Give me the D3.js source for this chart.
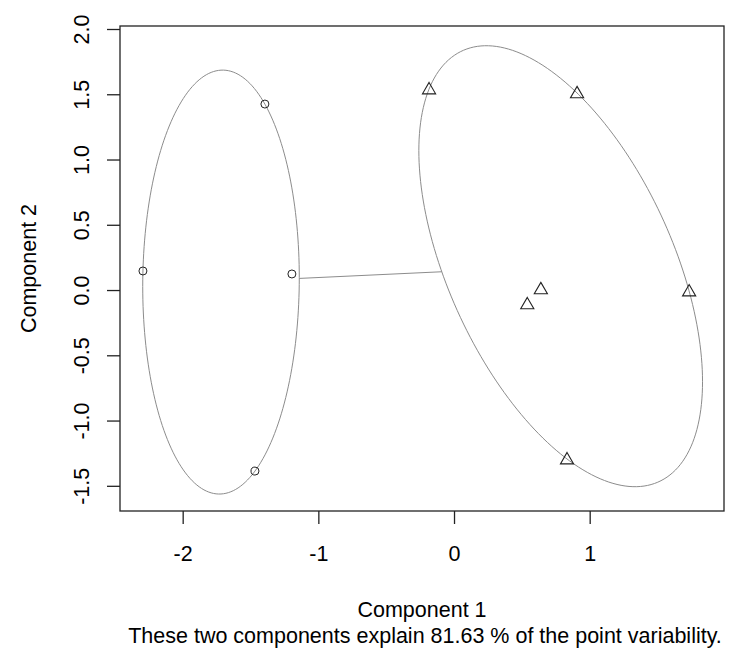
<!DOCTYPE html>
<html lang="en">
<head>
<meta charset="UTF-8">
<title>clusplot</title>
<script src="https://d3js.org/d3.v7.min.js"></script>
<style>
  body { margin: 0; background: #fff; }
  text { font-family: "Liberation Sans", Arial, sans-serif; fill: #000; }
</style>
</head>
<body>
<div id="chart"></div>
<script>
// cluster 1 (circles)
const c1x = [-1.394, -2.293, -1.195, -1.467];
const c1y = [1.425, 0.146, 0.123, -1.387];
// cluster 2 (triangles)
const c2x = [-0.184, 0.907, 0.640, 0.540, 1.733, 0.833];
const c2y = [1.540, 1.510, 0.008, -0.107, -0.008, -1.295];

const xTicks = [-2, -1, 0, 1];
const yTicks = [-1.5, -1.0, -0.5, 0.0, 0.5, 1.0, 1.5, 2.0];

const W = 732, H = 650;
const m = { left: 120, top: 26, right: 8, bottom: 139 };
const FS = "21.5px";

const svg = d3.select("#chart").append("svg")
  .attr("width", W).attr("height", H);

const x = d3.scaleLinear().domain([-2.462, 1.99]).range([m.left, W - m.right]);
const y = d3.scaleLinear().domain([-1.693, 2.023]).range([H - m.bottom, m.top]);

// minimum volume enclosing ellipse (Khachiyan)
function mvee(px, py) {
  const n = px.length;
  let u = new Array(n).fill(1 / n);
  for (let it = 0; it < 5000; it++) {
    const X = [[0,0,0],[0,0,0],[0,0,0]];
    for (let i = 0; i < n; i++) {
      const q = [px[i], py[i], 1];
      for (let a = 0; a < 3; a++) for (let b = 0; b < 3; b++) X[a][b] += u[i] * q[a] * q[b];
    }
    const Xi = inv3(X);
    let best = -1, bi = 0;
    for (let i = 0; i < n; i++) {
      const q = [px[i], py[i], 1];
      let s = 0;
      for (let a = 0; a < 3; a++) for (let b = 0; b < 3; b++) s += q[a] * Xi[a][b] * q[b];
      if (s > best) { best = s; bi = i; }
    }
    const step = (best - 3) / (3 * (best - 1));
    const nu = u.map(v => v * (1 - step));
    nu[bi] += step;
    let err = 0;
    for (let i = 0; i < n; i++) err += (nu[i] - u[i]) ** 2;
    u = nu;
    if (Math.sqrt(err) < 1e-9) break;
  }
  let cx = 0, cy = 0;
  for (let i = 0; i < n; i++) { cx += u[i] * px[i]; cy += u[i] * py[i]; }
  let sxx = 0, sxy = 0, syy = 0;
  for (let i = 0; i < n; i++) {
    sxx += u[i] * (px[i] - cx) ** 2;
    sxy += u[i] * (px[i] - cx) * (py[i] - cy);
    syy += u[i] * (py[i] - cy) ** 2;
  }
  // shape matrix B = d * cov, ellipse: (p-c)^T B^-1 (p-c) = 1
  return { cx, cy, a: 2 * sxx, b: 2 * sxy, c: 2 * syy };
}

function inv3(M) {
  const [[a,b,c],[d,e,f],[g,h,i]] = M;
  const A = e*i - f*h, B = -(d*i - f*g), C = d*h - e*g;
  const det = a*A + b*B + c*C;
  return [
    [A/det, -(b*i - c*h)/det, (b*f - c*e)/det],
    [B/det, (a*i - c*g)/det, -(a*f - c*d)/det],
    [C/det, -(a*h - b*g)/det, (a*e - b*d)/det]
  ];
}

function ellipsePts(E, k = 201) {
  const l11 = Math.sqrt(E.a), l21 = E.b / l11, l22 = Math.sqrt(E.c - l21 * l21);
  return d3.range(k).map(j => {
    const t = 2 * Math.PI * j / (k - 1);
    const u = Math.cos(t), v = Math.sin(t);
    return [E.cx + l11 * u, E.cy + l21 * u + l22 * v];
  });
}

// point on ellipse boundary in direction (dx, dy) from centre
function boundary(E, dx, dy) {
  const det = E.a * E.c - E.b * E.b;
  const q = (E.c * dx * dx - 2 * E.b * dx * dy + E.a * dy * dy) / det;
  const t = 1 / Math.sqrt(q);
  return [E.cx + t * dx, E.cy + t * dy];
}

const E1 = mvee(c1x, c1y);
const E2 = mvee(c2x, c2y);

const line = d3.line().x(d => x(d[0])).y(d => y(d[1]));

// ellipses
svg.selectAll("path.ell")
  .data([E1, E2])
  .enter().append("path")
  .attr("class", "ell")
  .attr("d", E => line(ellipsePts(E)))
  .attr("fill", "none")
  .attr("stroke", "#8c8c8c")
  .attr("stroke-width", 1);

// distance line between ellipse boundaries
const ddx = E2.cx - E1.cx, ddy = E2.cy - E1.cy;
const p1 = boundary(E1, ddx, ddy), p2 = boundary(E2, -ddx, -ddy);
svg.append("path")
  .attr("d", line([p1, p2]))
  .attr("stroke", "#8c8c8c")
  .attr("fill", "none");

// points
svg.selectAll("circle.pt")
  .data(c1x.map((v, i) => [v, c1y[i]]))
  .enter().append("circle")
  .attr("cx", d => x(d[0])).attr("cy", d => y(d[1]))
  .attr("r", 4)
  .attr("fill", "none").attr("stroke", "#222").attr("stroke-width", 1);

const tri = d3.symbol().type(d3.symbolTriangle).size(75);
svg.selectAll("path.tri")
  .data(c2x.map((v, i) => [v, c2y[i]]))
  .enter().append("path")
  .attr("d", tri)
  .attr("transform", d => `translate(${x(d[0])},${y(d[1]) + 1})`)
  .attr("fill", "none").attr("stroke", "#222").attr("stroke-width", 1.1);

// box
svg.append("rect")
  .attr("x", m.left).attr("y", m.top)
  .attr("width", W - m.right - m.left)
  .attr("height", H - m.bottom - m.top)
  .attr("fill", "none").attr("stroke", "#222").attr("stroke-width", 1.3);

// axes
const xAxis = svg.append("g")
  .attr("transform", `translate(0,${H - m.bottom})`)
  .call(d3.axisBottom(x).tickValues(xTicks).tickSize(13).tickPadding(22).tickFormat(d3.format("d")));
const yAxis = svg.append("g")
  .attr("transform", `translate(${m.left},0)`)
  .call(d3.axisLeft(y).tickValues(yTicks).tickSize(13).tickFormat(d3.format(".1f")));
[xAxis, yAxis].forEach(g => {
  g.select(".domain").remove();
  g.selectAll("line").attr("stroke", "#222").attr("stroke-width", 1.3);
  g.selectAll("text").style("font-size", FS).attr("fill", "#000").attr("font-family", null);
});
xAxis.selectAll("text").text(d => d3.format("d")(d).replace("\u2212", "-"));
yAxis.selectAll("text")
  .text(d => d3.format(".1f")(d).replace("\u2212", "-"))
  .attr("x", null).attr("dy", null)
  .attr("text-anchor", "middle")
  .attr("transform", "translate(-37,0) rotate(-90)")
  .attr("y", 6);

// titles
svg.append("text")
  .attr("x", (m.left + W - m.right) / 2).attr("y", 617)
  .attr("text-anchor", "middle").style("font-size", FS)
  .text("Component 1");
svg.append("text")
  .attr("x", (m.left + W - m.right) / 2 + 3).attr("y", 643)
  .attr("text-anchor", "middle").style("font-size", FS)
  .text("These two components explain 81.63 % of the point variability.");
svg.append("text")
  .attr("transform", `translate(36,${(m.top + H - m.bottom) / 2}) rotate(-90)`)
  .attr("text-anchor", "middle").style("font-size", FS)
  .text("Component 2");
</script>
</body>
</html>
